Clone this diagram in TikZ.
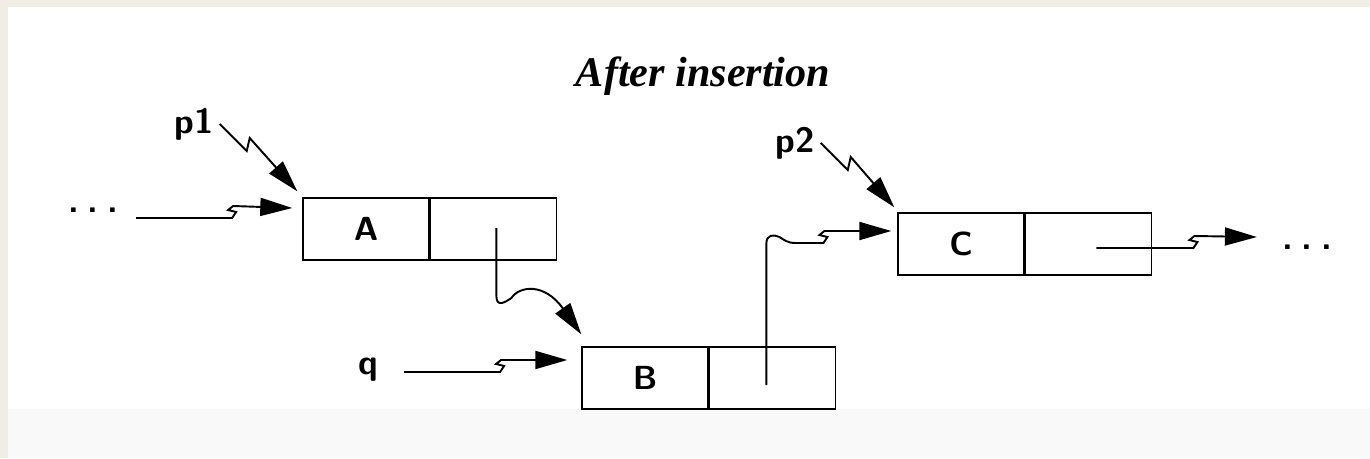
\documentclass[tikz,border=0pt]{standalone}
\usepackage{fontspec}
\newfontfamily\titlefont{Liberation Serif}
\usetikzlibrary{arrows.meta,calc}
\definecolor{frame}{RGB}{239,237,228}
\definecolor{band}{RGB}{249,249,249}
\tikzset{
  cell/.style ={draw,line width=0.8pt,minimum width=25.2mm,minimum height=12.4mm,inner sep=0pt,
                font=\sffamily\bfseries\fontsize{19}{22}\selectfont},
  lbl/.style  ={font=\sffamily\bfseries\fontsize{20}{23}\selectfont},
  ptr/.style  ={-{Triangle[length=6.4mm,width=3.6mm]},line width=1.1pt},
  zz/.style   ={to path={-- ++(#1,0) -- ++(4,-6) -- ++(-8,-2) -- ++(5,-4) -- (\tikztotarget)}},
  dz/.style   ={to path={-- ++(27,27) -- ++(3,-13) -- (\tikztotarget)}},
}
\begin{document}
\begin{tikzpicture}[x=0.2mm,y=-0.2mm]
  \useasboundingbox (0,0) rectangle (1370,458);
  % page, sheet and lower band
  \fill[frame] (0,0) rectangle (1370,458);
  \fill[white] (8,7) rectangle (1370,409);
  \fill[band] (8,409) rectangle (1370,458);
  % title
  \node[font=\titlefont\itshape\bfseries\fontsize{24}{27}\selectfont] (title) at (703,76) {After insertion};
  % list nodes: data cell + next cell
  \node[cell] (A) at (366,229) {A};
  \node[cell,anchor=west] (An) at (A.east) {};
  \node[cell] (B) at (645,378) {B};
  \node[cell,anchor=west] (Bn) at (B.east) {};
  \node[cell] (C) at (961,244) {C};
  \node[cell,anchor=west] (Cn) at (C.east) {};
  % labels
  \node[lbl] (p1) at (194,124) {p1};
  \node[lbl] (p2) at (795,143) {p2};
  \node[lbl] (q) at (368,370) {q};
  \node[lbl] (dotsL) at (93,210) {.\hspace{5pt}.\hspace{5pt}.};
  \node[lbl] (dotsR) at (1307,247) {.\hspace{5pt}.\hspace{5pt}.};
  \coordinate (outR) at ($(dotsR.west)+(-19,-10)$);
  % pointers
  \draw[ptr] ($(dotsL.east)+(12,8)$) to[zz=96] ($(A.west)+(-10,-21)$);
  \draw[ptr] ($(q.east)+(20,2)$) to[zz=96] ($(B.west)+(-14,-18)$);
  \draw[ptr] (p1.east) to[dz] ($(A.north west)+(-5,-6)$);
  \draw[ptr] (p2.east) to[dz] ($(C.north west)+(-3,-5)$);
  \draw[ptr] ($(Cn.center)+(8,4)$) to[zz=97] (outR);
  % A.next -> B
  \draw[ptr] ($(An.center)+(3,-1)$) -- ++(0,68)
    .. controls +(0,12) and +(-6,4) .. ++(15,2)
    .. controls +(8,-12) and +(-37,-52) .. ($(B.north west)+(0,-12)$);
  % B.next -> C
  \draw[ptr] ($(Bn.center)+(-6,7)$) -- ++(0,-142)
    .. controls +(0,-8) and +(-6,-3) .. ++(13,-6)
    .. controls +(5,3) and +(-8,0) .. ++(16,6)
    -- ++(28,0) -- ++(4,-6) -- ++(-8,-2) -- ++(5,-4) -- ($(C.west)+(-6,-13)$);
\end{tikzpicture}
\end{document}
